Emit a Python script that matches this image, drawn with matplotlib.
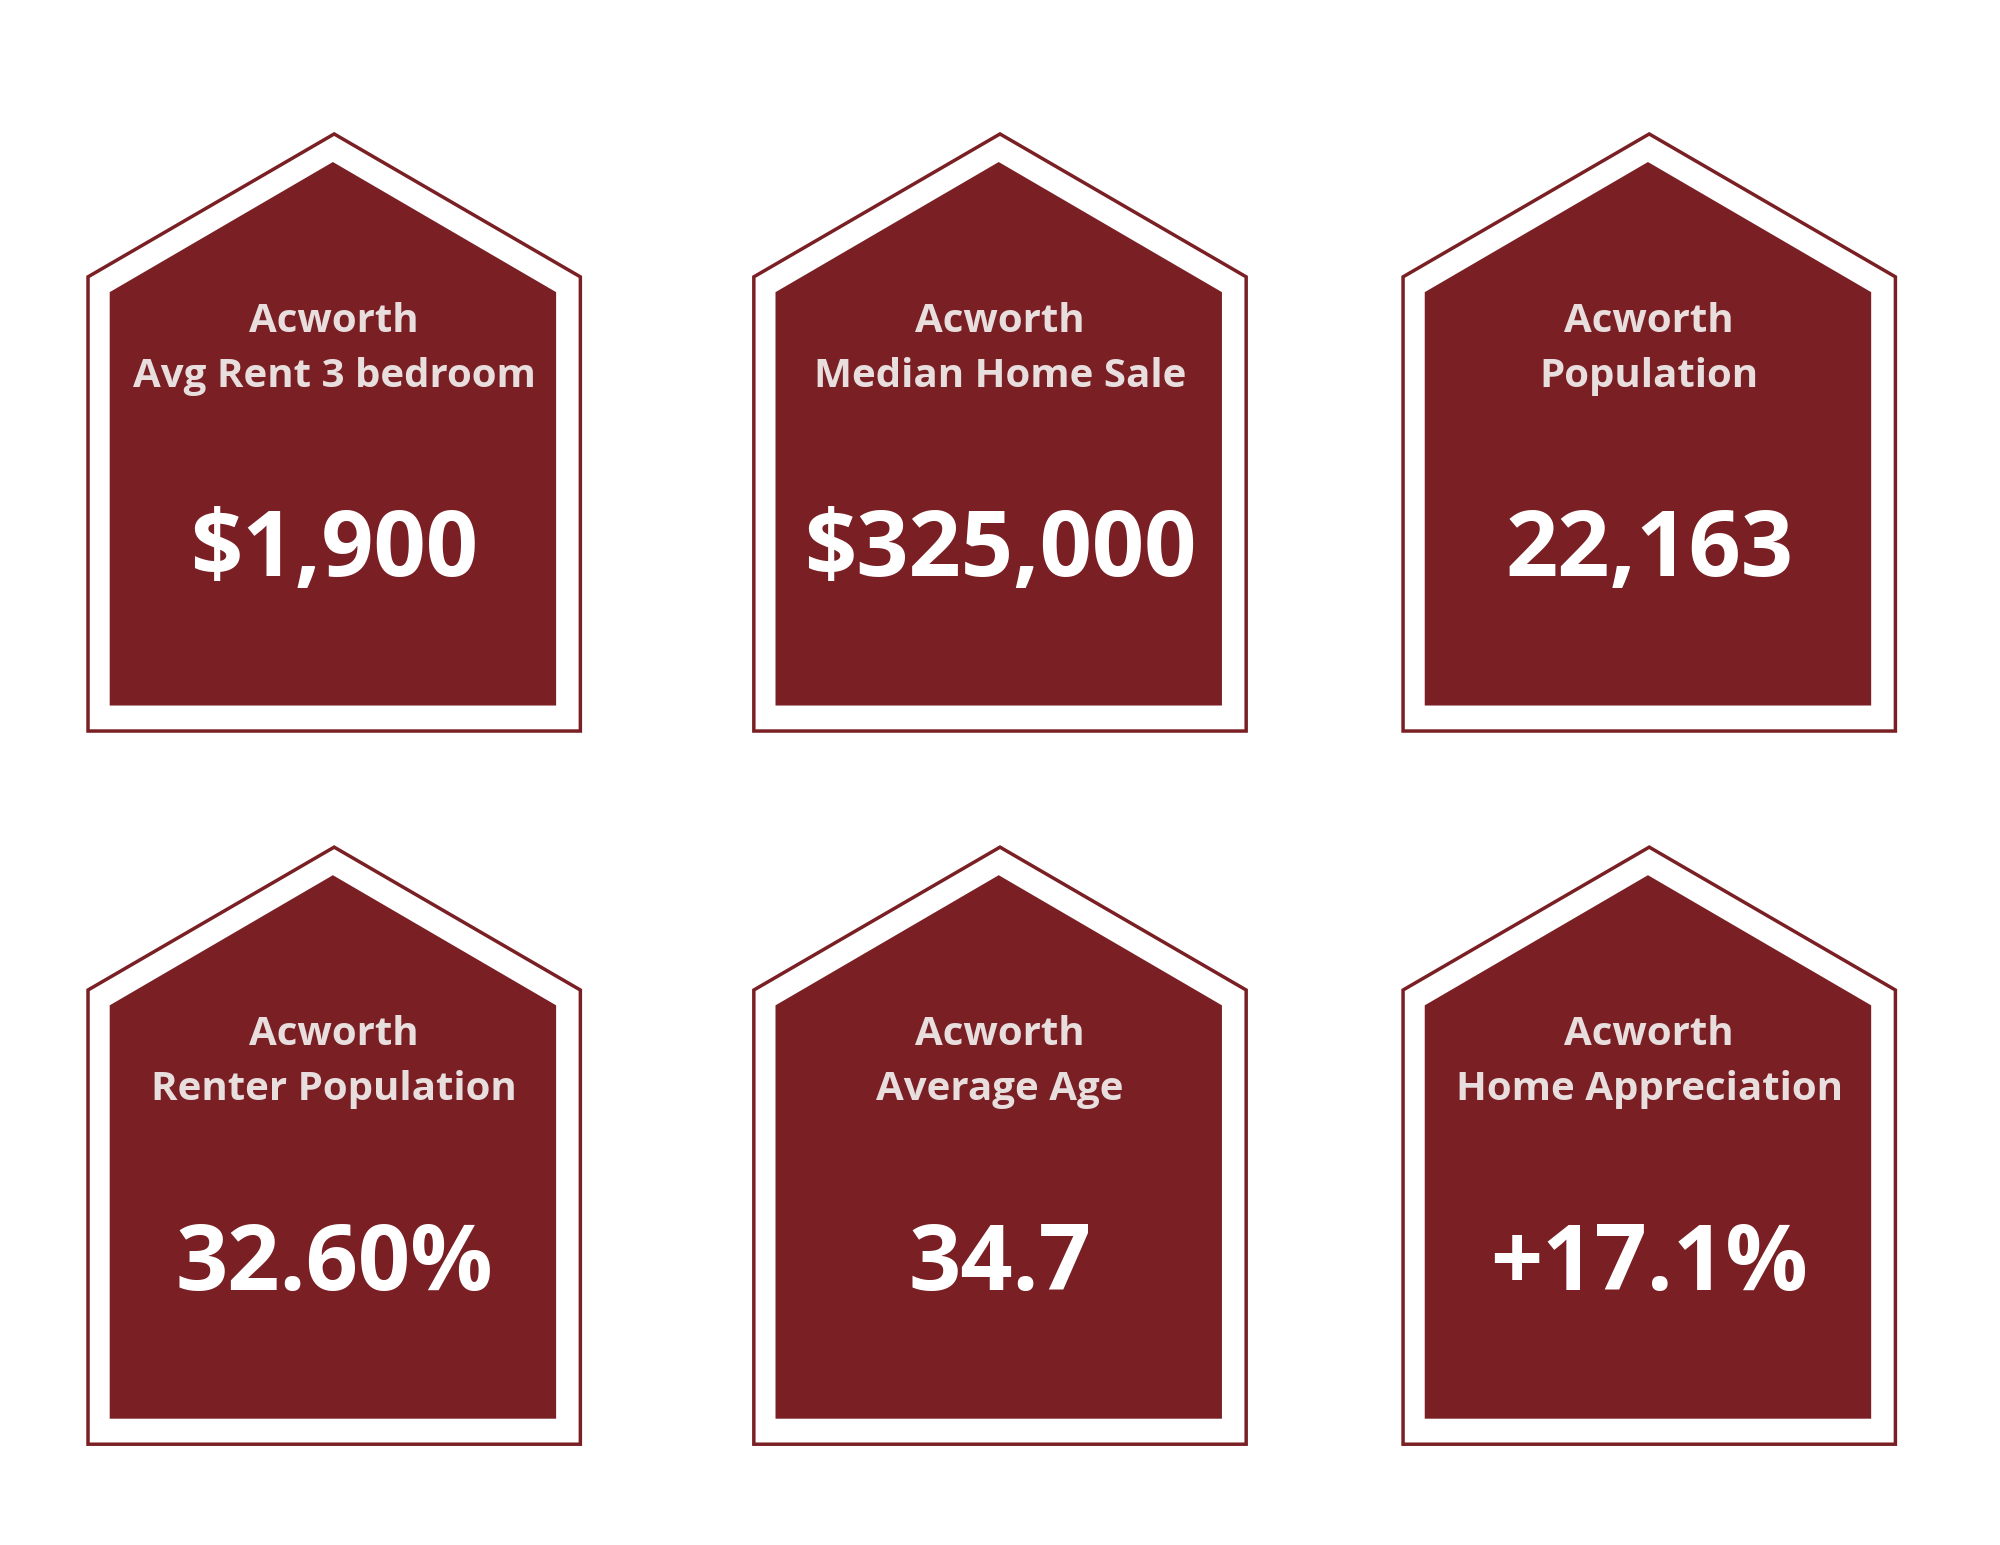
import matplotlib
matplotlib.use("Agg")
import matplotlib.pyplot as plt
from matplotlib.patches import Polygon

titles = ["Avg Rent 3 bedroom", "Median Home Sale", "Population",
          "Renter Population", "Average Age", "Home Appreciation"]
values = ["$1,900", "$325,000", "22,163", "32.60%", "34.7", "+17.1%"]
city = "Acworth"

col_x = [262, 784, 1293]
row_y = [0, 559]
RED = "#7a1f24"

fig = plt.figure(figsize=(20, 15.45), dpi=100)
ax = fig.add_axes([0, 0, 1, 1])
ax.set_xlim(0, 1568)
ax.set_ylim(1211, 0)
ax.axis("off")

def house(cx, dy, hw, apex, eave, bottom, **kw):
    pts = [(cx, apex + dy), (cx + hw, eave + dy), (cx + hw, bottom + dy),
           (cx - hw, bottom + dy), (cx - hw, eave + dy)]
    ax.add_patch(Polygon(pts, closed=True, **kw))

for i, (t, v) in enumerate(zip(titles, values)):
    cx = col_x[i % 3]
    dy = row_y[i // 3]
    house(cx, dy, 193, 105, 217, 573, facecolor="white", edgecolor=RED, lw=2.5)
    house(cx - 1, dy, 175, 127, 229, 553, facecolor=RED, edgecolor="none")
    ax.text(cx, 252 + dy, city, ha="center", va="center", color="#e8dede",
            fontsize=29, fontweight="bold", family="Open Sans")
    ax.text(cx, 295 + dy, t, ha="center", va="center", color="#e8dede",
            fontsize=29, fontweight="bold", family="Open Sans")
    ax.text(cx, 433 + dy, v, ha="center", va="center", color="white",
            fontsize=66, fontweight="bold", family="Open Sans")

fig.savefig("out.png", dpi=100, facecolor="white")
